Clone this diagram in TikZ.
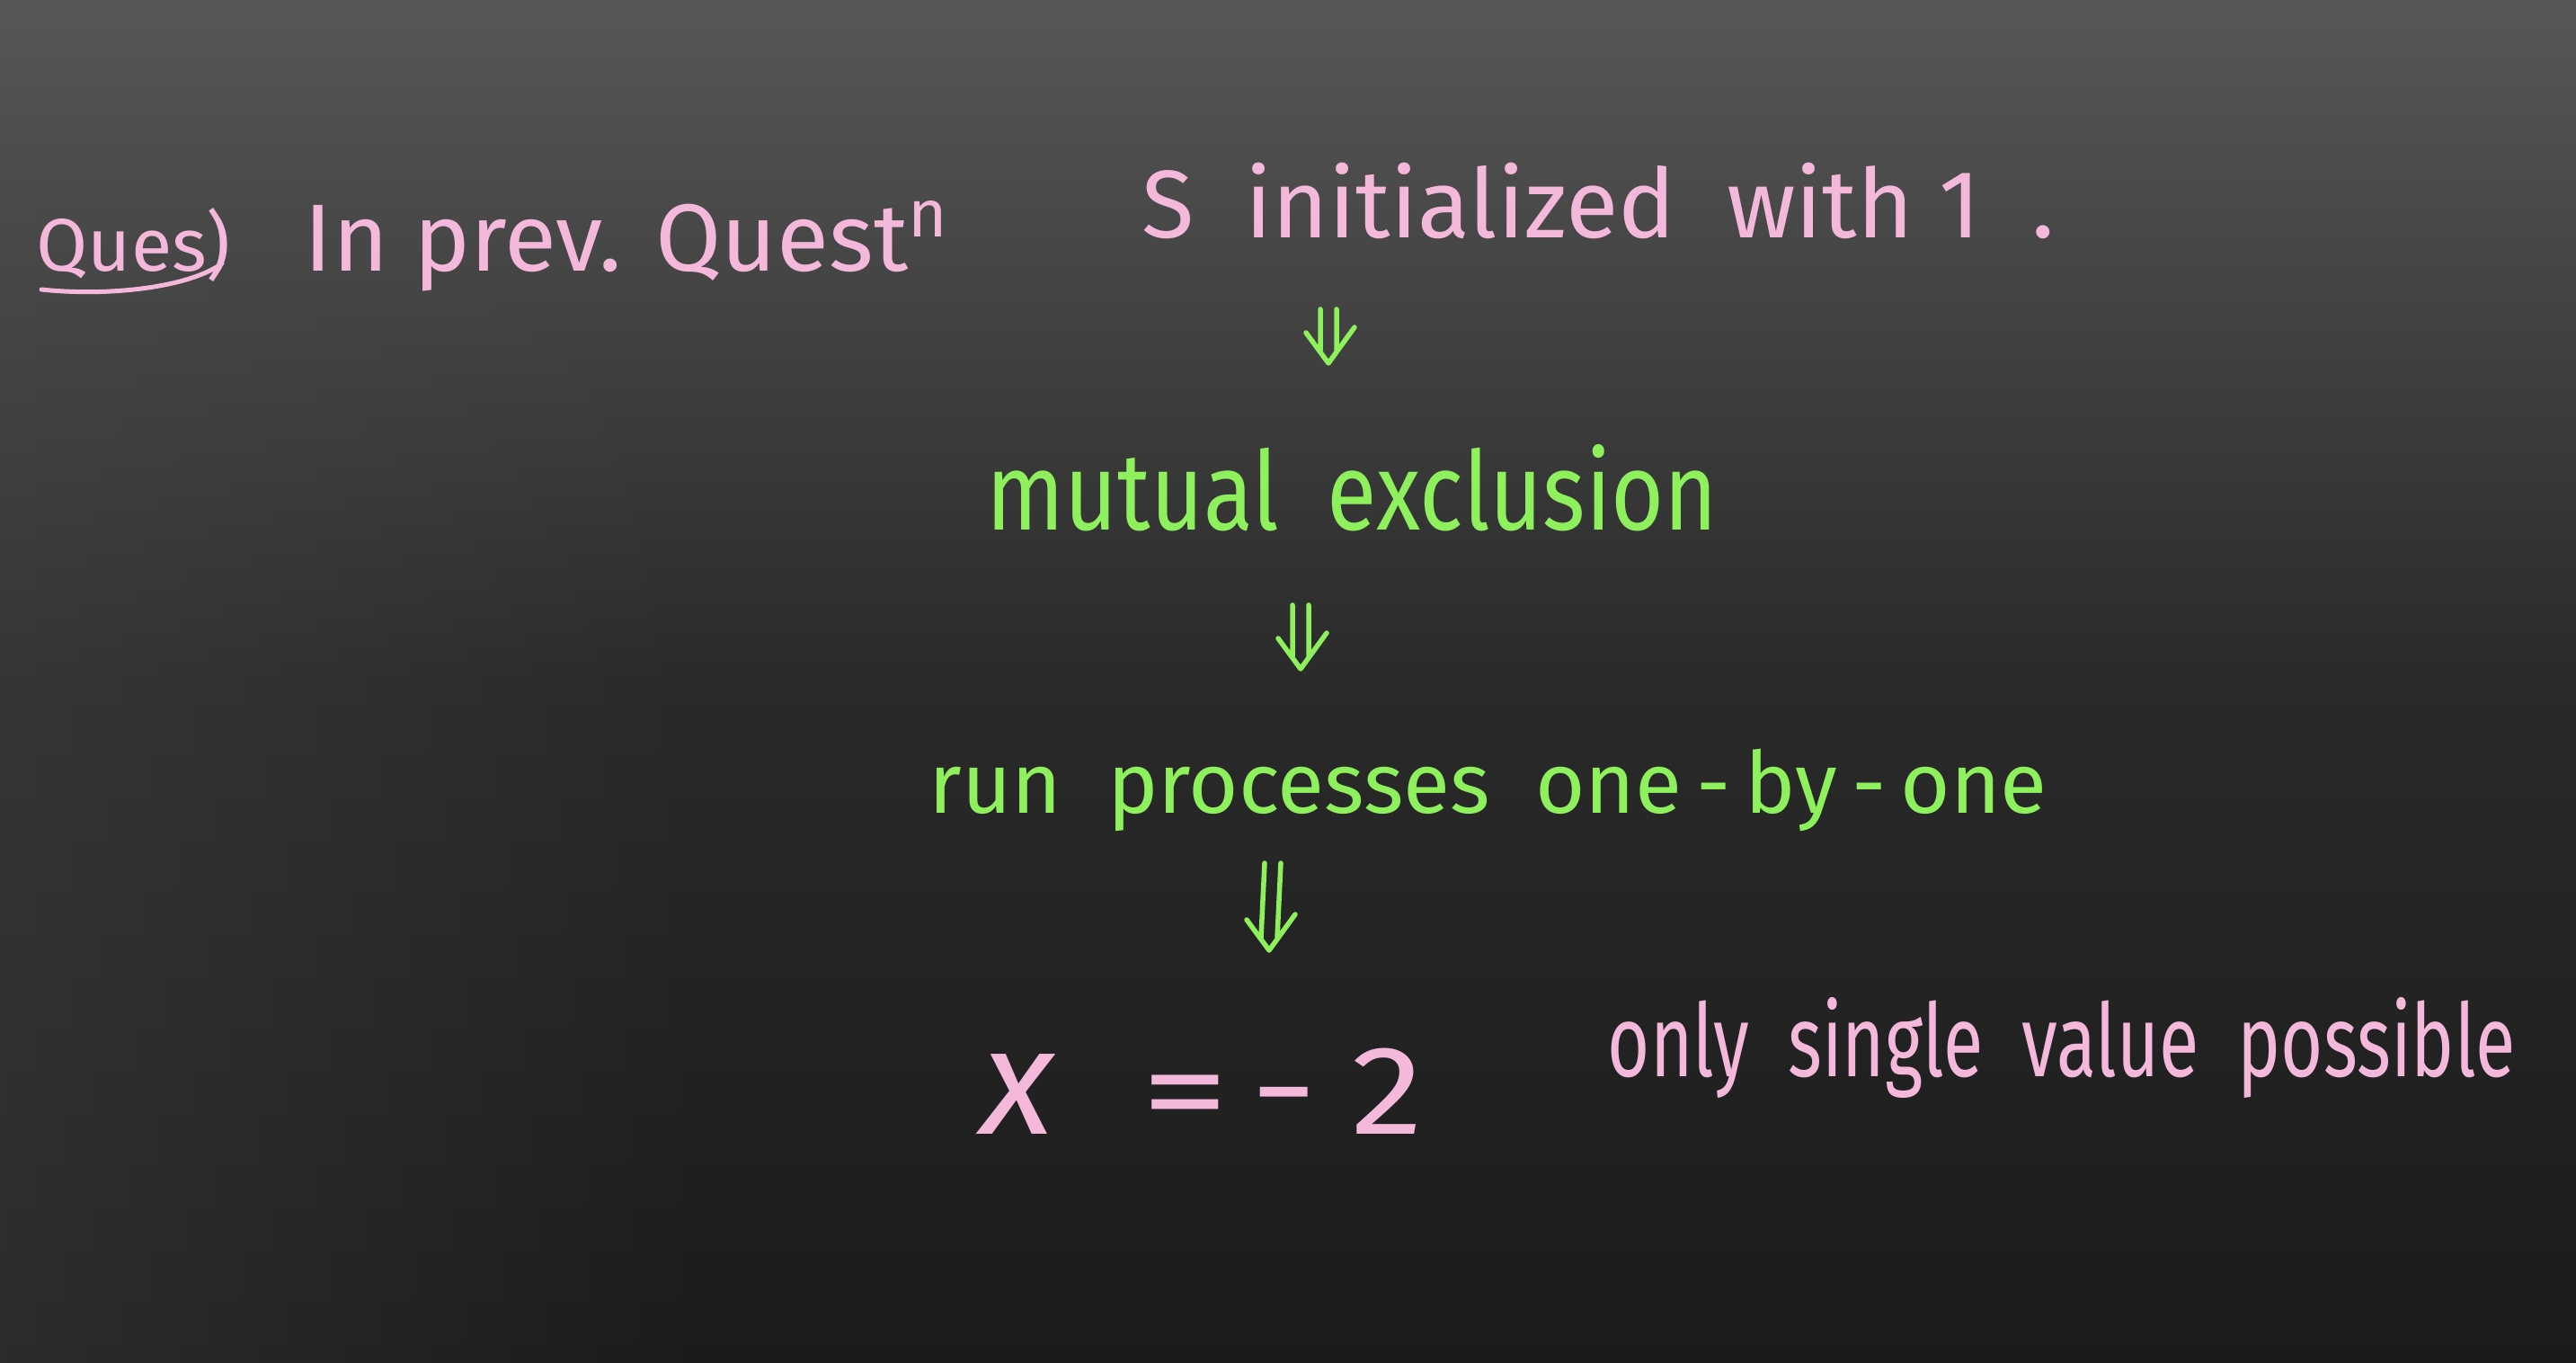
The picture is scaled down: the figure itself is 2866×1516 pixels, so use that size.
\documentclass[tikz,border=0pt]{standalone}
\usepackage{fontspec}
\setmainfont{Fira Sans}
\usetikzlibrary{fadings,calc}
\definecolor{chalkpink}{HTML}{F4B8DA}
\definecolor{chalkgreen}{HTML}{8EF05C}
\definecolor{boardtop}{HTML}{575757}
\definecolor{boardmid}{HTML}{2A2A2A}
\definecolor{boardbot}{HTML}{1B1B1B}
\begin{document}
\begin{tikzpicture}[x=0.01cm,y=-0.01cm,
  pinktxt/.style={text=chalkpink, inner sep=0pt, anchor=base west},
  greentxt/.style={text=chalkgreen, inner sep=0pt, anchor=base west},
  arrowstroke/.style={draw=chalkgreen, line width=0.055cm, line cap=round, line join=round},
  chalkline/.style={draw=chalkpink, line width=0.05cm, line cap=round}]
\useasboundingbox (0,0) rectangle (2866,1516);
\shade[top color=boardtop, bottom color=boardbot, middle color=boardmid]
  (0,0) rectangle (2866,1516);
\fill[white!30!black, opacity=0.35, path fading=east] (0,200) rectangle (800,1516);

% texts
\node[pinktxt] (ques) at (40,302) {\resizebox{2.16cm}{!}{Ques)}};
\draw[chalkline] (46,322) .. controls (120,330) and (210,320) .. (247,293);
\node[pinktxt] (prev) at (338,302) {\resizebox{7.2cm}{!}{In prev. Quest\textsuperscript{n}}};
\node[pinktxt] (init) at (1270,265) {\resizebox{10.15cm}{!}{S\ \ initialized\ \ with 1\ \ .}};
\node[greentxt] (mutex) at (1097,590) {\resizebox{8.13cm}{0.95cm}{mutual\ \ exclusion}};
\node[greentxt] (run) at (1033,905) {\resizebox{12.43cm}{!}{run\ \ processes\ \ one\,-\,by\,-\,one}};
\node[pinktxt] (xval) at (1091,1261) {\fontsize{40pt}{40pt}\selectfont
  \scalebox{1.2}{\textit{x}}\hspace{0.95cm}\scalebox{1.4}[1]{=}\hspace{0.25cm}−\hspace{0.4cm}\scalebox{1.15}[1]{2}};
\node[pinktxt] (only) at (1788,1197) {\resizebox{10.09cm}{0.88cm}{only\ \ single\ \ value\ \ possible}};

% double arrows (drawn by hand: two shafts and a V head)
\coordinate (a1t) at (1478,344);
\coordinate (a1b) at (1478,404);
\coordinate (a2t) at (1447,673);
\coordinate (a2b) at (1447,744);
\coordinate (a3t) at (1416,960);
\coordinate (a3b) at (1412,1057);
\foreach \t/\b in {a1t/a1b, a2t/a2b, a3t/a3b}{
  \draw[arrowstroke] ($(\t)+(-9,0)$) -- ($(\b)+(-9,-14)$)
                     ($(\t)+(9,0)$) -- ($(\b)+(9,-14)$)
                     ($(\b)+(-25,-34)$) -- (\b) -- ($(\b)+(29,-40)$);
}
\end{tikzpicture}
\end{document}
